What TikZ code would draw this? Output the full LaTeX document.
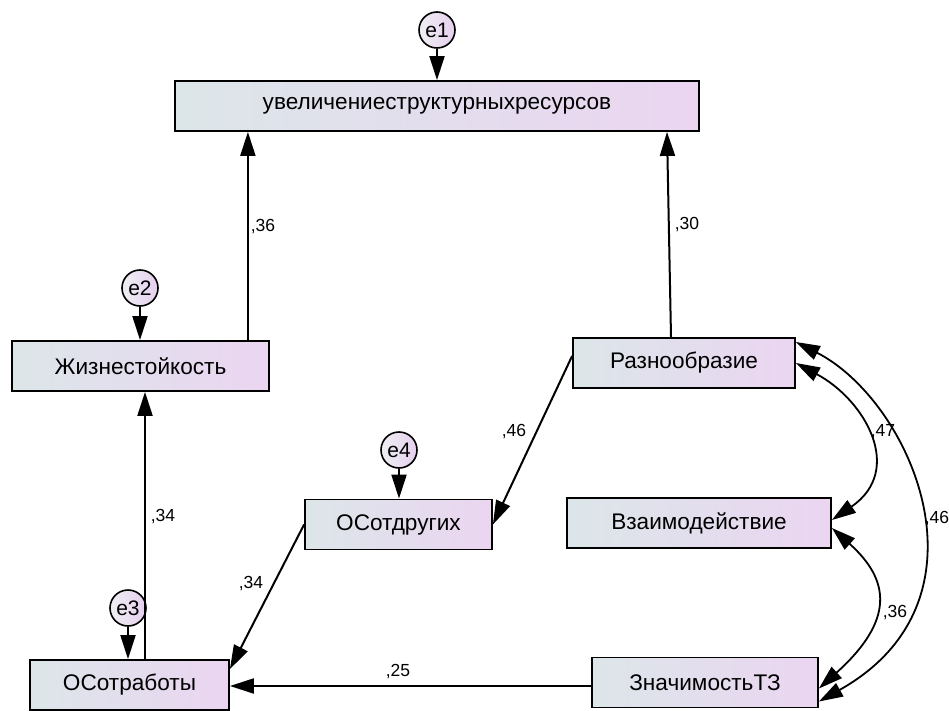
\documentclass[tikz,border=0pt]{standalone}
\usepackage{fontspec}
\setmainfont{Liberation Sans}
\usepackage{tikz}
\usetikzlibrary{
  arrows.meta,
  positioning,
  calc
}
\usepackage{xcolor}
\definecolor{boxL}{HTML}{DCE6E9}
\definecolor{boxR}{HTML}{EBD5F1}
\definecolor{errL}{HTML}{EFEFF3}
\definecolor{errR}{HTML}{E5CFEE}

\begin{document}
\begin{tikzpicture}[
    x=1pt, y=-1pt,
    ob/.style={draw, line width=1.8pt, left color=boxL, right color=boxR,
      minimum height=50pt, inner sep=0pt, font=\fontsize{22.6}{25}\selectfont},
    er/.style={draw, circle, line width=1.6pt, left color=errL, right color=errR,
      minimum size=36pt, inner sep=0pt, font=\fontsize{21}{23}\selectfont},
    rg/.style={line width=2pt, -{Triangle[length=24pt, width=15pt]}},
    cv/.style={line width=1.8pt, {Triangle[length=24pt, width=15pt]}-{Triangle[length=24pt, width=15pt]}},
    cf/.style={inner sep=0pt, font=\fontsize{17.5}{19}\selectfont}
  ]
    \useasboundingbox (0,0) rectangle (949,711);
    % ---- observed variables ----
    \node[ob, minimum width=524pt] (top) at (437,106) {увеличениеструктурныхресурсов};
    \node[ob, minimum width=257pt] (zh)  at (140.5,366) {Жизнестойкость};
    \node[ob, minimum width=222pt] (raz) at (684,363) {Разнообразие};
    \node[ob, minimum width=264pt] (vz)  at (699,523) {Взаимодействие};
    \node[ob, minimum width=187pt] (osd) at (398.5,524.5) {ОСотдругих};
    \node[ob, minimum width=199pt] (osr) at (129.5,685) {ОСотработы};
    \node[ob, minimum width=226pt] (zn)  at (705,682.5) {ЗначимостьТЗ};
    % ---- errors ----
    \node[er] (e1) at (437,30) {e1};
    \node[er] (e2) at (140,288) {e2};
    \node[er] (e3) at (128,608) {e3};
    \node[er] (e4) at (399,450) {e4};
    \draw[rg] (e1) -- (e1 |- top.north);
    \draw[rg] (e2) -- (e2 |- zh.north);
    \draw[rg] (e3) -- (e3 |- osr.north);
    \draw[rg] (e4) -- (e4 |- osd.north);
    % ---- regressions ----
    \draw[rg] ([xshift=-22pt]zh.north east) -- ([xshift=-22pt]zh.north east |- top.south);
    \draw[rg] ([xshift=-13pt]raz.north) -- ([xshift=-17pt]raz.north |- top.south);
    \draw[rg] ([xshift=15.5pt]osr.north) -- ([xshift=15.5pt]osr.north |- zh.south);
    \draw[rg] ([yshift=7pt]raz.west) -- (osd.east);
    \draw[rg] (osd.west) -- ([yshift=-10pt]osr.north east);
    \draw[rg] ([yshift=-3.5pt]zn.west) -- ([yshift=-3.5pt]zn.west -| osr.east);
    % ---- covariances ----
    \draw[cv] (raz.east) .. controls (865,400) and (905,470) .. ([yshift=3pt]vz.east);
    \draw[cv] ([yshift=-5pt]vz.east) .. controls (890,580) and (895,620) .. ([yshift=-6pt]zn.east);
    \draw[cv] ([yshift=21pt]raz.east) .. controls (910,400) and (1000,600) .. ([yshift=-19pt]zn.east);
    % ---- estimates ----
    \node[cf] (c1) at (263,227) {,36};
    \node[cf] (c2) at (687,225) {,30};
    \node[cf] (c3) at (163,517) {,34};
    \node[cf] (c4) at (514,432) {,46};
    \node[cf] (c5) at (251,584) {,34};
    \node[cf] (c6) at (398,672) {,25};
    \node[cf] (c7) at (883,432) {,47};
    \node[cf] (c8) at (895,613) {,36};
    \node[cf] (c9) at (937,519) {,46};
  \end{tikzpicture}
\end{document}
